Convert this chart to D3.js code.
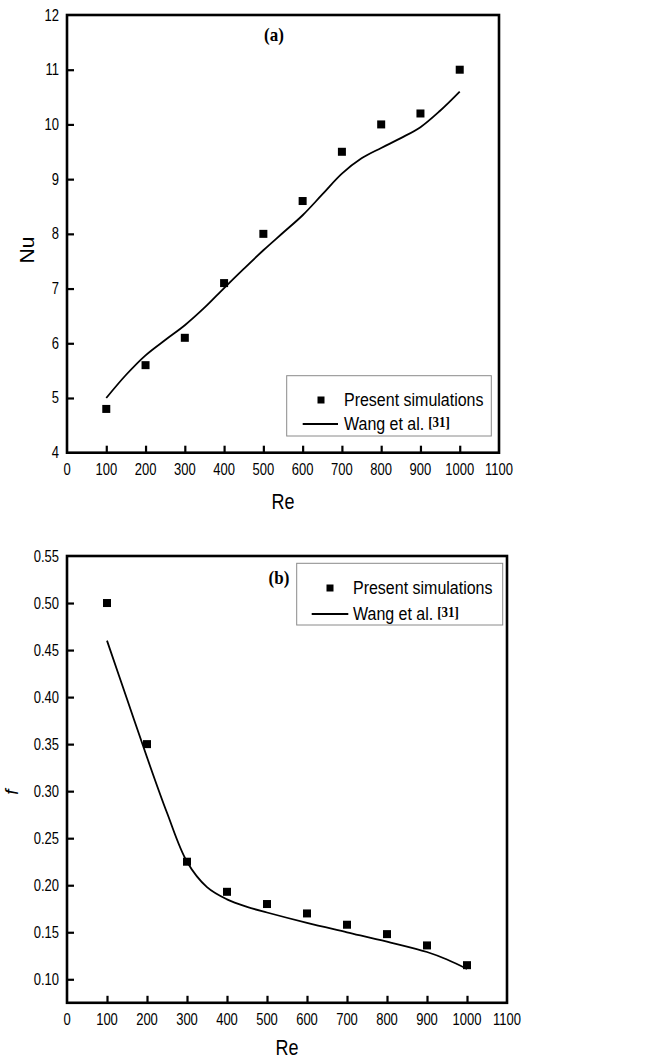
<!DOCTYPE html>
<html><head><meta charset="utf-8">
<script src="https://cdn.jsdelivr.net/npm/d3@7"></script>
<style>html,body{margin:0;padding:0;background:#fff;}svg{display:block;}</style>
</head><body>
<svg id="chart" width="652" height="1060"></svg>
<script>
// ---- data ----
const reSim = [100, 200, 300, 400, 500, 600, 700, 800, 900, 1000];
const nuSim = [4.8, 5.6, 6.1, 7.1, 8.0, 8.6, 9.5, 10.0, 10.2, 11.0];
const reWangA = [100, 150, 200, 250, 300, 350, 400, 450, 500, 550, 600, 650, 700, 750, 800, 850, 900, 950, 1000];
const nuWang = [5.0, 5.42, 5.78, 6.06, 6.33, 6.65, 7.01, 7.36, 7.70, 8.02, 8.34, 8.72, 9.1, 9.38, 9.57, 9.75, 9.95, 10.25, 10.6];
const fSim = [0.50, 0.35, 0.225, 0.193, 0.18, 0.17, 0.158, 0.148, 0.136, 0.115];
const reWangB = [100, 150, 200, 250, 300, 350, 400, 450, 500, 600, 700, 800, 900, 950, 1000];
const fWang = [0.46, 0.398, 0.336, 0.277, 0.225, 0.198, 0.185, 0.177, 0.171, 0.160, 0.150, 0.140, 0.129, 0.121, 0.111];
const xTicks = [0, 100, 200, 300, 400, 500, 600, 700, 800, 900, 1000, 1100];
const nuTicks = [4, 5, 6, 7, 8, 9, 10, 11, 12];
const fTicks = [0.10, 0.15, 0.20, 0.25, 0.30, 0.35, 0.40, 0.45, 0.50, 0.55];
const legendLabels = ["Present simulations", "Wang et al."];
const refLabel = "[31]";

const svg = d3.select("#chart");
const SANS = "'Liberation Sans', Arial, sans-serif";
const SERIF = "'Liberation Serif', 'Times New Roman', serif";
const SY = 1.22; // vertical stretch of lettering in the reference

function stretchedText(g, x, y, txt, size, anchor, opts = {}) {
  const t = g.append("text")
    .attr("transform", `translate(${x},${y}) scale(1,${opts.sy || SY})` + (opts.rot ? ` rotate(${opts.rot})` : ""))
    .attr("text-anchor", anchor)
    .attr("font-family", opts.family || SANS)
    .attr("font-size", size)
    .attr("fill", "#000")
    .text(txt);
  if (opts.weight) t.attr("font-weight", opts.weight);
  if (opts.style) t.attr("font-style", opts.style);
  return t;
}

function panel(cfg) {
  const g = svg.append("g");
  const x = d3.scaleLinear().domain([0, 1100]).range([cfg.left, cfg.right]);
  const y = d3.scaleLinear().domain(cfg.yDomain).range([cfg.bottom, cfg.top]);

  // ticks (inward)
  g.append("g").attr("transform", `translate(0,${cfg.bottom})`)
    .call(d3.axisTop(x).tickValues(xTicks.filter(v => v > 0 && v < 1100)).tickSize(7).tickFormat(""))
    .call(a => a.select(".domain").remove())
    .call(a => a.selectAll("line").attr("stroke", "#000").attr("stroke-width", 2.2));
  g.append("g").attr("transform", `translate(${cfg.left},0)`)
    .call(d3.axisRight(y).tickValues(cfg.yTicks.filter(v => y(v) < cfg.bottom - 1 && y(v) > cfg.top + 1)).tickSize(7).tickFormat(""))
    .call(a => a.select(".domain").remove())
    .call(a => a.selectAll("line").attr("stroke", "#000").attr("stroke-width", 2.2));

  // tick labels
  xTicks.forEach(v => stretchedText(g, x(v), cfg.bottom + 22, String(v), 13, "middle"));
  cfg.yTicks.forEach(v => stretchedText(g, cfg.left - 8, y(v) + 5.5, cfg.yFmt(v), 13, "end"));

  // frame
  g.append("rect").attr("x", cfg.left).attr("y", cfg.top)
    .attr("width", cfg.right - cfg.left).attr("height", cfg.bottom - cfg.top)
    .attr("fill", "none").attr("stroke", "#000").attr("stroke-width", 2.6);

  // line
  const line = d3.line().x(d => x(d[0])).y(d => y(d[1])).curve(d3.curveCatmullRom.alpha(0.5));
  g.append("path").datum(cfg.lineX.map((v, i) => [v, cfg.lineY[i]]))
    .attr("d", line).attr("fill", "none").attr("stroke", "#000").attr("stroke-width", 1.8);

  // points
  const s = 8;
  g.selectAll("rect.pt").data(reSim.map((v, i) => [v, cfg.simY[i]])).enter()
    .append("rect").attr("class", "pt")
    .attr("x", d => x(d[0]) - s / 2).attr("y", d => y(d[1]) - s / 2)
    .attr("width", s).attr("height", s).attr("fill", "#000");

  // axis titles
  stretchedText(g, cfg.reX, cfg.reY, "Re", 18, "middle");
  cfg.yTitle(g);

  // panel label
  stretchedText(g, cfg.tagX, cfg.tagY, cfg.tag, 17, "middle", { family: SERIF, weight: "bold", sy: 1.1 });

  // legend
  const L = cfg.legend;
  g.append("rect").attr("x", L.x0).attr("y", L.y0).attr("width", L.x1 - L.x0).attr("height", L.y1 - L.y0)
    .attr("fill", "#fff").attr("stroke", "#8a8a8a").attr("stroke-width", 1);
  g.append("rect").attr("x", L.mx - 3.5).attr("y", L.my1 - 3.5).attr("width", 7).attr("height", 7).attr("fill", "#000");
  stretchedText(g, L.tx, L.my1 + 6, legendLabels[0], 16, "start", { sy: 1.12 });
  g.append("line").attr("x1", L.lx0).attr("x2", L.lx1).attr("y1", L.my2).attr("y2", L.my2)
    .attr("stroke", "#000").attr("stroke-width", 1.8);
  const wt = stretchedText(g, L.tx, L.my2 + 6, legendLabels[1], 16, "start", { sy: 1.12 });
  const w = wt.node().getComputedTextLength();
  stretchedText(g, L.tx + w + 4, L.my2 + 3, refLabel, 13, "start", { family: SERIF, weight: "bold", sy: 1.1 });
}

panel({
  left: 67, right: 499, top: 15, bottom: 452.7,
  yDomain: [4, 12], yTicks: nuTicks, yFmt: d3.format("d"),
  lineX: reWangA, lineY: nuWang, simY: nuSim,
  reX: 283, reY: 509,
  yTitle: g => stretchedText(g, 34, 250, "Nu", 21, "middle", { rot: -90, sy: 1 }),
  tag: "(a)", tagX: 274, tagY: 41,
  legend: { x0: 286.7, x1: 491.3, y0: 375.7, y1: 436, mx: 321, my1: 400, my2: 424, lx0: 302.7, lx1: 338, tx: 344 }
});

panel({
  left: 67, right: 507, top: 556, bottom: 1002.8,
  yDomain: [0.075, 0.55], yTicks: fTicks, yFmt: d3.format(".2f"),
  lineX: reWangB, lineY: fWang, simY: fSim,
  reX: 287, reY: 1055,
  yTitle: g => stretchedText(g, 18, 792, "f", 19, "middle", { rot: -90, sy: 1, style: "italic" }),
  tag: "(b)", tagX: 279, tagY: 584,
  legend: { x0: 296.7, x1: 502.7, y0: 563.3, y1: 625, mx: 330, my1: 588, my2: 614, lx0: 311.7, lx1: 348.3, tx: 353 }
});
</script>
</body></html>
